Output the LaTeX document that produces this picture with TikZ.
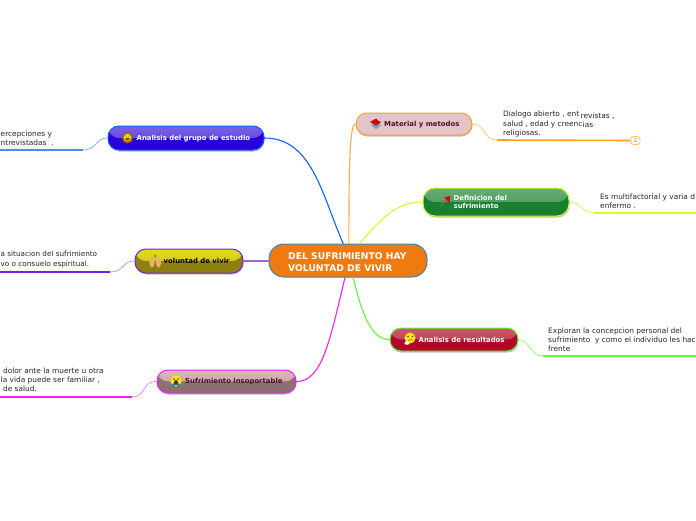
\documentclass[tikz,border=0pt]{standalone}
\usepackage{fontspec}
\setmainfont{DejaVu Sans}
\usetikzlibrary{shadows,calc}
\definecolor{cblue}{HTML}{1060FF}
\definecolor{cpurple}{HTML}{7020E8}
\definecolor{cmag}{HTML}{F020F0}
\definecolor{corange}{HTML}{FFA020}
\definecolor{cyel}{HTML}{D4FA30}
\definecolor{cgreen}{HTML}{60F840}
\definecolor{gt}{HTML}{7A62E4}\definecolor{gm}{HTML}{5038DC}\definecolor{gb}{HTML}{2A00D8}
\definecolor{vt}{HTML}{E2DA20}\definecolor{vm}{HTML}{C8BC18}\definecolor{vb}{HTML}{8E8010}
\definecolor{st}{HTML}{DDB8B8}\definecolor{sm}{HTML}{C09898}\definecolor{sb}{HTML}{8C7070}
\definecolor{mf}{HTML}{E4C4C8}
\definecolor{dt}{HTML}{68AC74}\definecolor{dm}{HTML}{3E9450}\definecolor{db}{HTML}{188030}
\definecolor{rt}{HTML}{C85A68}\definecolor{rm}{HTML}{BE3048}\definecolor{rb}{HTML}{B00828}
\definecolor{cf}{HTML}{EE7A10}\definecolor{cd}{HTML}{3A88B8}
\definecolor{maroon}{HTML}{4A1030}
\definecolor{hand}{HTML}{F0B060}
\tikzset{
 twotone/.style n args={7}{draw=#1,line width=1pt,rounded corners=#2pt,minimum width=#3pt,minimum height=#4pt,inner sep=0pt,
   drop shadow={shadow xshift=0.5pt,shadow yshift=-1.5pt,fill=gray,opacity=.5},fill=#7,
   path picture={
     \fill[top color=#5,bottom color=#6] (path picture bounding box.north west) rectangle (path picture bounding box.east);
     \fill[#7] (path picture bounding box.west) rectangle (path picture bounding box.south east);
   }},
 body/.style={font=\fontsize{7.4}{9.2}\selectfont,text=black!85,anchor=west,align=left,inner sep=0pt},
 lab/.style={font=\fontsize{6.9}{8.6}\selectfont\bfseries,anchor=west,align=left,inner sep=0pt},
 main/.style={line width=1.1pt,line cap=round},
 sub/.style={line width=.7pt},
 under/.style={line width=1.6pt},
 badge/.style={draw=corange!70,fill=white,line width=.7pt,rounded corners=2.5pt,minimum width=9pt,minimum height=8pt,inner sep=0pt,text=corange,font=\fontsize{5}{5}\selectfont\bfseries}
}
\begin{document}
\begin{tikzpicture}[x=1pt,y=-1pt]
\useasboundingbox (0,0) rectangle (696,520);
\clip (0,0) rectangle (696,520);
\fill[white] (0,0) rectangle (696,520);
\node[twotone={cblue}{11}{156}{24}{gt}{gm}{gb}] (g) at (186,138) {};
\node[twotone={cpurple}{11}{108}{24}{vt}{vm}{vb}] (v) at (189,261) {};
\node[twotone={cmag}{11}{139}{23}{st}{sm}{sb}] (s) at (226.5,381.5) {};
\node[twotone={corange}{11}{116}{22}{mf}{mf}{mf}] (m) at (414,124) {};
\node[twotone={cyel}{12}{146}{28}{dt}{dm}{db}] (d) at (496,202) {};
\node[twotone={cgreen}{11}{128}{23}{rt}{rm}{rb}] (r) at (454,339.5) {};
\node[draw=cd,fill=cf,line width=1pt,rounded corners=15pt,minimum width=158pt,minimum height=33pt,inner sep=0pt] (c) at (348,260.5) {};
% free ends
\coordinate (ga) at (83,150); \coordinate (gz) at (0,150);
\coordinate (va) at (110,272); \coordinate (vz) at (0,272);
\coordinate (sa) at (132,397); \coordinate (sz) at (0,397);
\coordinate (ma) at (497,140);
\coordinate (da) at (594,213); \coordinate (dz) at (696,213);
\coordinate (ra) at (543,356); \coordinate (rz) at (696,356);
\node[badge] (mb) at (635.5,140.5) {2};
% main connectors
\draw[main,cblue] (g.east) .. controls (312,138) and (322,195) .. (c.106);
\draw[main,corange!85] (m.west) .. controls (349,124) and (349,175) .. (c.87);
\draw[main,cyel] (d.west) .. controls (400,202) and (385,213) .. (c.55);
\draw[main,cpurple!70] (v.east) -- (c.west |- v.east);
\draw[main,cmag] (s.east) .. controls (322,382) and (330,340) .. (c.-100);
\draw[main,cgreen] (r.west) .. controls (372,340) and (362,315) .. (c.-73);
% sub connectors
\draw[sub,cblue!50] (g.west) .. controls (95,138) and (97,150) .. (ga);
\draw[under,cblue!75] (ga) -- (gz);
\draw[sub,cpurple!50] (v.west) .. controls (122,261) and (124,272) .. (va);
\draw[under,cpurple] (va) -- (vz);
\draw[sub,cmag!60] (s.west) .. controls (142,381) and (146,397) .. (sa);
\draw[under,cmag] (sa) -- (sz);
\draw[sub,corange!60] (m.east) .. controls (486,124) and (483,140) .. (ma);
\draw[under,corange] (ma) -- (mb.west);
\draw[sub,cyel] (d.east) .. controls (581,202) and (582,213) .. (da);
\draw[under,cyel] (da) -- (dz);
\draw[sub,cgreen!70] (r.east) .. controls (530,340) and (530,356) .. (ra);
\draw[under,cgreen] (ra) -- (rz);
% icons
\fill[orange!70!black] (127.5,138) circle (5.5);
\fill[yellow!85!orange] (127.5,137.5) circle (3.8);
\fill[black!70] (127.5,139) ellipse (2.2 and 1.4);
\fill[black!70] (126,136) circle (.7); \fill[black!70] (129,136) circle (.7);
\fill[hand] (152,262) ellipse (2.6 and 5.5);
\fill[hand] (158.5,262) ellipse (2.6 and 5.5);
\fill[green!40!gray] (155.2,256) circle (1.6);
\fill[yellow!90!orange] (176,381) circle (5.6);
\fill[cyan!70!blue] (173.5,385) circle (1.8); \fill[cyan!70!blue] (178.5,385) circle (1.8);
\fill[black!80] (176,382.5) ellipse (2 and 2.4);
\fill[black!80] (174,379) circle (.8); \fill[black!80] (178,379) circle (.8);
\fill[cyan!40!gray] (371,125) -- (376,122) -- (381,125.5) -- (376,129) -- cycle;
\fill[red!85!black] (370,122) -- (375,119) -- (381,122) -- (376,125.5) -- cycle;
\draw[red!60!black,line width=.8pt] (376,119) -- (379,124);
\draw[red!80!white,line width=1.2pt] (442,203.5) -- (449,197.5);
\fill[red!85!black] (444.5,197.5) -- (450,196) -- (449.5,203) -- cycle;
\draw[black!50,line width=.5pt] (440,206.5) -- (445,201);
\fill[yellow!90!orange] (410,338) circle (5.5);
\fill[black!75] (408,336.5) circle (.8); \fill[black!75] (412.5,336.5) circle (.8);
\draw[black!70,line width=.5pt] (408,340.5) -- (412,339.5);
\fill[white] (407,343) ellipse (2.6 and 1.8);
% labels
\node[lab,text=white] (gl) at (136.5,138.5) {Analisis del grupo de estudio};
\node[lab,text=black] (vl) at (163.5,260.5) {voluntad de vivir};
\node[lab,text=maroon] (sl) at (185,381.5) {Sufrimiento insoportable};
\node[lab,text=maroon] (ml) at (384,124.5) {Material y metodos};
\node[lab,text=white] (dl) at (453.5,202) {Definicion del\\sufrimiento};
\node[lab,text=white] (rl) at (418.5,339.5) {Analisis de resultados};
\node[lab,text=white,font=\fontsize{9.2}{11.3}\selectfont\bfseries] (cl) at (288,262) {DEL SUFRIMIENTO HAY\\VOLUNTAD DE VIVIR};
% texts
\node[body] (t1) at (0.5,138) {ercepciones y\\ntrevistadas\ \ .};
\node[body,font=\fontsize{7.25}{9.2}\selectfont] (t2) at (0.5,259.5) {a situacion del sufrimiento\\vo o consuelo espiritual.};
\node[body] (t3) at (0.5,380) {\ dolor ante la muerte u otra\\la vida puede ser familiar ,\\\ de salud.};
\node[body] (t4) at (503,124) {Dialogo abierto , ent\\salud , edad y creenc\\religiosas.};
\node[body] (t4b) at (580.5,120.5) {revistas ,\\\hspace{2pt}ias};
\node[body] (t5) at (600,201) {Es multifactorial y varia d\\enfermo .};
\node[body] (t6) at (548,339.5) {Exploran la concepcion personal del\\sufrimiento\ \ y como el individuo les hac\\frente};
\end{tikzpicture}
\end{document}
